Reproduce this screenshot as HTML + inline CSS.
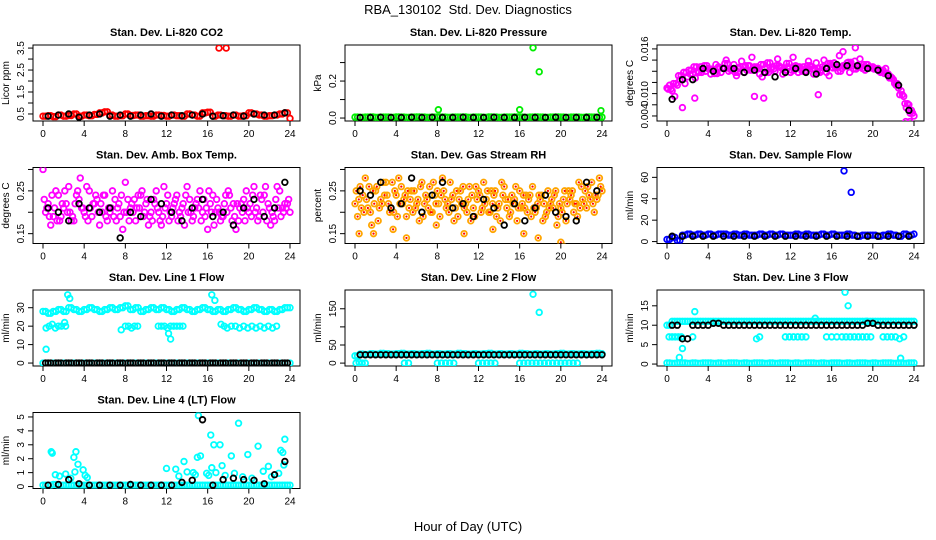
<!DOCTYPE html>
<html><head><meta charset="utf-8">
<style>
html,body{margin:0;padding:0;background:#fff;}
svg{display:block;font-family:"Liberation Sans",sans-serif;}
</style></head>
<body>
<svg id="c" width="936" height="540" viewBox="0 0 936 540" xmlns="http://www.w3.org/2000/svg">
<rect width="936" height="540" fill="#fff"/>
<text x="468" y="14" text-anchor="middle" font-size="13">RBA_130102&#160; Std. Dev. Diagnostics</text>
<text x="468" y="531" text-anchor="middle" font-size="13">Hour of Day (UTC)</text>
</svg>
<script>
// shared hour grids
const hrs = [0,0.5,1,1.5,2,2.5,3,3.5,4,4.5,5,5.5,6,6.5,7,7.5,8,8.5,9,9.5,10,10.5,11,11.5,12,12.5,13,13.5,14,14.5,15,15.5,16,16.5,17,17.5,18,18.5,19,19.5,20,20.5,21,21.5,22,22.5,23,23.5,24];
const hrsB = [0.25,0.75,1.25,1.75,2.25,2.75,3.25,3.75,4.25,4.75,5.25,5.75,6.25,6.75,7.25,7.75,8.25,8.75,9.25,9.75,10.25,10.75,11.25,11.75,12.25,12.75,13.25,13.75,14.25,14.75,15.25,15.75,16.25,16.75,17.25,17.75,18.25,18.75,19.25,19.75,20.25,20.75,21.25,21.75,22.25,22.75,23.25,23.75];
const hrsC = [0.12,0.62,1.12,1.62,2.12,2.62,3.12,3.62,4.12,4.62,5.12,5.62,6.12,6.62,7.12,7.62,8.12,8.62,9.12,9.62,10.12,10.62,11.12,11.62,12.12,12.62,13.12,13.62,14.12,14.62,15.12,15.62,16.12,16.62,17.12,17.62,18.12,18.62,19.12,19.62,20.12,20.62,21.12,21.62,22.12,22.62,23.12,23.62];
const hrsD = [0.37,0.87,1.37,1.87,2.37,2.87,3.37,3.87,4.37,4.87,5.37,5.87,6.37,6.87,7.37,7.87,8.37,8.87,9.37,9.87,10.37,10.87,11.37,11.87,12.37,12.87,13.37,13.87,14.37,14.87,15.37,15.87,16.37,16.87,17.37,17.87,18.37,18.87,19.37,19.87,20.37,20.87,21.37,21.87,22.37,22.87,23.37,23.87];
const hrsK = [0.5,1.5,2.5,3.5,4.5,5.5,6.5,7.5,8.5,9.5,10.5,11.5,12.5,13.5,14.5,15.5,16.5,17.5,18.5,19.5,20.5,21.5,22.5,23.5];
const xTicks = [0,4,8,12,16,20,24];

// CO2
const co2Red = [0.4,0.42,0.38,0.45,0.4,0.43,0.5,0.4,0.45,0.42,0.48,0.55,0.6,0.45,0.4,0.42,0.5,0.43,0.45,0.4,0.42,0.4,0.45,0.43,0.4,0.45,0.42,0.4,0.5,0.45,0.4,0.55,0.58,0.4,0.45,0.42,0.4,0.45,0.4,0.42,0.55,0.5,0.45,0.4,0.42,0.45,0.5,0.55,0.3];
const co2OutH = [17.1,17.8];
const co2OutV = [3.5,3.5];
const co2Blk = [0.4,0.45,0.5,0.35,0.45,0.5,0.4,0.45,0.4,0.45,0.5,0.4,0.45,0.42,0.45,0.5,0.4,0.42,0.45,0.4,0.5,0.45,0.45,0.55];
// Pressure
const prGreen = [0.005,0.004,0.005,0.006,0.004,0.005,0.005,0.004,0.006,0.005,0.004,0.005,0.006,0.005,0.004,0.005,0.006,0.005,0.004,0.005,0.005,0.006,0.004,0.005,0.005,0.004,0.006,0.005,0.004,0.005,0.005,0.006,0.005,0.004,0.005,0.006,0.005,0.004,0.005,0.006,0.005,0.004,0.005,0.005,0.004,0.006,0.005,0.004,0.005];
const prOutH = [8.1,16,17.3,17.9,23.9];
const prOutV = [0.045,0.045,0.38,0.25,0.04];
const prBlk = [0.003,0.003,0.004,0.003,0.003,0.004,0.003,0.004,0.003,0.003,0.004,0.003,0.003,0.004,0.003,0.003,0.004,0.003,0.003,0.004,0.003,0.003,0.003,0.004];
// Li-820 temp
const tM1 = [0.009,0.0085,0.0095,0.0105,0.011,0.0115,0.012,0.0125,0.0125,0.0122,0.0128,0.0125,0.012,0.0132,0.0125,0.0118,0.013,0.0128,0.0115,0.0125,0.0135,0.012,0.0128,0.0122,0.0118,0.013,0.0125,0.012,0.0128,0.0135,0.0122,0.0118,0.0132,0.0128,0.0125,0.0135,0.013,0.0128,0.0125,0.0132,0.0128,0.0125,0.0122,0.0115,0.0105,0.009,0.0075,0.006,0.004];
const tM2 = [0.0095,0.0075,0.0105,0.0098,0.0115,0.0108,0.0128,0.012,0.0115,0.0132,0.0118,0.014,0.0122,0.0112,0.0138,0.0122,0.0145,0.0128,0.011,0.0135,0.0128,0.0142,0.0115,0.0128,0.0145,0.0118,0.0128,0.0138,0.0115,0.0125,0.014,0.0112,0.0135,0.0148,0.0128,0.0118,0.0138,0.0142,0.0122,0.0128,0.0125,0.0118,0.0125,0.011,0.0095,0.0085,0.0055,0.005];
const tM3 = [0.0088,0.0098,0.0112,0.0118,0.0122,0.0128,0.0118,0.013,0.0124,0.0116,0.0126,0.0134,0.0124,0.0118,0.0128,0.013,0.0122,0.0126,0.0132,0.0118,0.0124,0.013,0.0126,0.0134,0.0122,0.0128,0.012,0.013,0.0124,0.0118,0.0128,0.0134,0.0126,0.012,0.013,0.0136,0.0124,0.0128,0.0132,0.0126,0.0124,0.012,0.0116,0.0108,0.0098,0.0078,0.0062,0.0045];
const tOutH = [1.5,2.7,8.5,9.4,14.7,18.3,17.1,23.2,23.6];
const tOutV = [0.0055,0.0072,0.0075,0.0072,0.0078,0.0162,0.0155,0.003,0.003];
const tBlk = [0.007,0.0105,0.0105,0.0125,0.012,0.0125,0.0125,0.0118,0.0122,0.0118,0.011,0.0118,0.0125,0.0118,0.0115,0.0125,0.0132,0.013,0.013,0.0125,0.0122,0.0112,0.0095,0.005];
// Amb box temp
const aM1 = [0.30,0.22,0.19,0.24,0.21,0.26,0.18,0.23,0.20,0.25,0.22,0.17,0.24,0.20,0.23,0.19,0.27,0.21,0.18,0.24,0.22,0.20,0.25,0.17,0.22,0.19,0.24,0.21,0.26,0.18,0.23,0.20,0.16,0.24,0.21,0.19,0.25,0.22,0.18,0.23,0.20,0.26,0.19,0.24,0.21,0.18,0.25,0.22,0.20];
const aM2 = [0.20,0.17,0.25,0.19,0.22,0.18,0.24,0.21,0.26,0.19,0.23,0.20,0.18,0.25,0.21,0.16,0.23,0.20,0.24,0.19,0.17,0.23,0.20,0.26,0.18,0.22,0.20,0.17,0.23,0.21,0.25,0.19,0.22,0.20,0.18,0.24,0.21,0.16,0.22,0.25,0.19,0.21,0.23,0.18,0.20,0.26,0.21,0.22];
const aM3 = [0.23,0.19,0.21,0.18,0.25,0.20,0.22,0.28,0.19,0.21,0.24,0.22,0.19,0.21,0.18,0.24,0.20,0.22,0.21,0.25,0.23,0.18,0.21,0.19,0.24,0.21,0.18,0.22,0.20,0.19,0.21,0.23,0.25,0.17,0.20,0.22,0.24,0.19,0.21,0.18,0.22,0.20,0.24,0.26,0.17,0.23,0.19,0.21];
const aM4 = [0.21,0.24,0.18,0.22,0.20,0.19,0.25,0.21,0.18,0.22,0.20,0.24,0.21,0.19,0.22,0.20,0.18,0.23,0.21,0.20,0.19,0.22,0.18,0.21,0.20,0.23,0.19,0.24,0.20,0.22,0.18,0.21,0.20,0.23,0.19,0.20,0.18,0.22,0.20,0.21,0.24,0.18,0.20,0.22,0.19,0.21,0.20,0.23];
const aBlk = [0.21,0.20,0.18,0.22,0.21,0.20,0.21,0.14,0.20,0.19,0.23,0.22,0.20,0.18,0.21,0.23,0.19,0.20,0.17,0.21,0.23,0.19,0.21,0.27];
// Gas stream RH
const rO1 = [0.22,0.26,0.28,0.20,0.25,0.23,0.27,0.21,0.24,0.26,0.19,0.25,0.22,0.27,0.23,0.20,0.25,0.28,0.22,0.24,0.19,0.26,0.23,0.21,0.25,0.27,0.20,0.24,0.22,0.26,0.19,0.23,0.25,0.21,0.24,0.20,0.23,0.19,0.22,0.25,0.21,0.18,0.24,0.22,0.26,0.21,0.27,0.23,0.25];
const rO2 = [0.19,0.24,0.21,0.25,0.18,0.27,0.22,0.20,0.28,0.23,0.21,0.25,0.18,0.22,0.26,0.24,0.19,0.23,0.27,0.21,0.25,0.22,0.18,0.26,0.20,0.23,0.25,0.19,0.27,0.21,0.24,0.18,0.22,0.20,0.26,0.22,0.18,0.25,0.21,0.19,0.23,0.25,0.20,0.27,0.22,0.24,0.20,0.28];
const rO3 = [0.25,0.21,0.23,0.17,0.26,0.22,0.24,0.27,0.19,0.22,0.25,0.20,0.23,0.19,0.21,0.27,0.22,0.25,0.20,0.18,0.23,0.21,0.26,0.19,0.24,0.22,0.20,0.25,0.18,0.23,0.20,0.26,0.21,0.24,0.19,0.21,0.24,0.20,0.23,0.17,0.20,0.22,0.25,0.19,0.23,0.26,0.22,0.24];
const rO4 = [0.23,0.20,0.26,0.22,0.21,0.24,0.20,0.25,0.22,0.24,0.23,0.21,0.26,0.24,0.20,0.22,0.24,0.21,0.23,0.25,0.22,0.20,0.24,0.23,0.21,0.25,0.22,0.21,0.24,0.23,0.22,0.21,0.24,0.23,0.21,0.24,0.22,0.21,0.24,0.22,0.25,0.23,0.22,0.21,0.25,0.23,0.24,0.26];
const rOutH = [0.4,1.8,3.7,5.0,7.9,10.6,13.4,16.4,17.8,20.0,20.3];
const rOutV = [0.15,0.15,0.16,0.14,0.17,0.15,0.16,0.15,0.14,0.13,0.12];
const rBlk = [0.25,0.24,0.27,0.21,0.22,0.28,0.20,0.24,0.27,0.21,0.22,0.19,0.23,0.21,0.17,0.22,0.18,0.21,0.24,0.20,0.19,0.18,0.27,0.25];
// Sample flow
const sBlue = [2,4,1,6,7,6,7,6,7,6,7,7,6,7,6,7,6,6,7,6,7,6,7,6,6,7,6,7,6,6,7,6,7,6,6,7,6,5,6,6,6,5,6,7,6,5,7,6,7];
const sOutH = [17.2,17.9];
const sOutV = [66,46];
const sBlk = [5,5,5,5,5,5,5,5,5,5,5,5,5,5,5,5,5,5,5,5,5,5,5,5];
// Line 1
const l1Top = [28,27,28,29,28,30,29,28,29,30,29,28,29,30,29,30,31,29,30,28,29,30,29,30,29,28,29,30,29,28,29,30,29,28,29,28,29,30,29,28,29,30,29,28,29,28,29,30,30];
const l1MidH = [0.3,0.6,0.9,1.2,1.5,1.8,2.2,8,8.3,8.6,8.9,9.2,11.2,11.5,11.8,12.1,12.4,12.7,13,13.3,13.6,17.3,17.6,17.9,18.3,18.7,19.1,19.5,19.9,20.3,20.7,21.1,21.5,21.9,22.3,22.7];
const l1MidV = [19,20,21,19,20,20,20,20,20,19,20,20,20,20,20,19,20,20,20,20,20,21,20,19,20,20,19,20,19,20,19,20,19,20,19,20];
const l1OutH = [0.3,2.4,2.6,7.6,12.2,12.4,16.4,16.7,2.1];
const l1OutV = [7.5,37,35,18,16,13,37,34,22];
const l1Zero = [0,0,0,0,0,0,0,0,0,0,0,0,0,0,0,0,0,0,0,0,0,0,0,0,0,0,0,0,0,0,0,0,0,0,0,0,0,0,0,0,0,0,0,0,0,0,0,0,0];
const l1Blk = [0,0,0,0,0,0,0,0,0,0,0,0,0,0,0,0,0,0,0,0,0,0,0,0];
// Line 2
const l2Top = [20,25,24,26,25,27,26,25,26,27,25,26,25,26,27,25,26,25,26,25,27,26,25,26,25,26,27,25,26,25,26,25,27,26,25,26,25,26,25,26,27,25,26,25,26,25,26,27,26];
const l2ZeroH = [0.1,0.4,0.7,1.0,4.8,5.2,8.0,8.4,8.8,9.2,9.6,12.0,12.4,12.8,13.2,13.6,16.0,16.4,16.8,17.2,17.6,18.0,18.4,18.8,19.2,19.6,20.0,20.4,20.8,21.2,21.6];
const l2ZeroV = [0,2,0,0,0,0,0,0,0,0,0,0,0,0,0,0,0,0,0,0,0,0,0,0,0,0,0,0,0,0,0];
const l2OutH = [17.3,17.9];
const l2OutV = [190,140];
const l2Blk = [23,23,23,23,23,23,23,23,23,23,23,23,23,23,23,23,23,23,23,23,23,23,23,23];
// Line 3
const l3Top = [10,11,11,11,11,11,11,11,11,11,11,11,11,11,11,11,11,11,11,11,11,11,11,11,11,11,11,11,11,11,11,11,11,11,11,11,11,11,11,11,11,11,11,11,11,11,11,11,11];
const l3MidH = [0.2,0.5,0.8,1.1,1.4,2.5,8.7,9.0,11.5,11.9,12.3,12.7,13.1,13.5,15.5,16.0,16.5,17.0,17.4,17.8,18.2,18.6,19.0,19.4,19.8,21.0,21.4,21.8,22.2,22.6,23.0];
const l3MidV = [7,7,7,7,7,7,6.5,7,7,7,7,7,7,7,7,7,7,7,7,7,7,7,7,7,7,7,7,7,7,6.5,7];
const l3OutH = [1.2,1.5,2.7,17.3,17.6,14.4,19.4,22.7];
const l3OutV = [1.7,4,13.5,18.5,15,11.8,11,1.5];
const l3Zero = [0.3,0.2,0.3,0.3,0.2,0.3,0.2,0.3,0.3,0.2,0.3,0.2,0.3,0.3,0.2,0.3,0.2,0.3,0.3,0.2,0.3,0.2,0.3,0.3,0.2,0.3,0.2,0.3,0.3,0.2,0.3,0.2,0.3,0.3,0.2,0.3,0.2,0.3,0.3,0.2,0.3,0.2,0.3,0.3,0.2,0.3,0.2,0.3,0.3];
const l3Blk = [10,6.5,10,10,10.5,10,10,10,10,10,10,10,10,10,10,10,10,10,10,10.5,10,10,10,10];
// Line 4
const l4Base = [0.1,0.1,0.15,0.1,0.1,0.1,0.1,0.1,0.1,0.1,0.1,0.1,0.1,0.1,0.1,0.1,0.1,0.1,0.1,0.1,0.1,0.1,0.1,0.1,0.1,0.1,0.1,0.1,0.1,0.1,0.1,0.1,0.1,0.1,0.1,0.1,0.1,0.1,0.1,0.1,0.1,0.1,0.1,0.1,0.1,0.1,0.1,0.1,0.1];
const l4CyanH = [0.8,0.9,1.2,1.6,2.2,2.7,3,3.1,3.2,3.4,3.9,4.1,4.3,12,12.9,13.2,13.7,14,14.6,14.8,15,15.1,15.3,15.9,16.1,16.3,16.4,16.6,16.8,17.2,17.4,17.7,18.3,18.6,19,19.4,19.9,20.3,20.9,21.4,21.9,22.2,22.9,23.1,23.3,23.4,23.5];
const l4CyanV = [2.5,2.4,0.85,0.75,0.9,0.6,2.1,1.05,2.5,1.6,1.2,0.8,0.65,1.3,1.25,0.75,1.8,1.05,1.0,0.85,2.1,5.1,2.2,0.95,0.8,3.7,1.35,3.0,1.0,3.0,1.5,0.8,2.2,0.95,4.55,0.7,2.3,0.6,2.9,1.1,1.45,0.7,0.95,2.6,2.45,1.55,3.4];
const l4Blk = [0.1,0.15,0.5,0.2,0.1,0.1,0.1,0.1,0.15,0.1,0.1,0.1,0.1,0.3,0.45,4.8,0.1,0.5,0.6,0.5,0.45,0.2,0.85,1.8];

const NS = 'http://www.w3.org/2000/svg';
const svg = document.getElementById('c');
const cols = [33,345,657], rowsY = [45,167.5,290,412.5], PW = 267, PH = 76;

function el(tag, attrs, parent){
  const e = document.createElementNS(NS, tag);
  for (const k in attrs) e.setAttribute(k, attrs[k]);
  (parent||svg).appendChild(e);
  return e;
}

function panel(col,row,ylim,title,ylab,yTicks,yLabels,name){
  const g = el('g',{});
  
  
  const L = cols[col], T = rowsY[row];
  const sx = h => L + 10 + h*(PW-20)/24;
  const sy = v => T + PH - (v-ylim[0])/(ylim[1]-ylim[0])*PH;
  const box = el('rect',{x:L,y:T,width:PW,height:PH,fill:'none',stroke:'#000','stroke-width':1},g);
  
  
  const t = el('text',{x:L+PW/2,y:T-9,'text-anchor':'middle','font-size':11,'font-weight':'bold'},g);
  t.textContent = title;
  
  
  const yl = el('text',{transform:`translate(${L-24},${T+PH/2}) rotate(-90)`,'text-anchor':'middle','font-size':10},g);
  yl.textContent = ylab;
  
  
  xTicks.forEach(h=>{
    el('line',{x1:sx(h),x2:sx(h),y1:T+PH,y2:T+PH+5,stroke:'#000'},g);
    const tx = el('text',{x:sx(h),y:T+PH+16,'text-anchor':'middle','font-size':10},g);
    tx.textContent = h;
    
    
  });
  yTicks.forEach((v,i)=>{
    el('line',{x1:L-5,x2:L,y1:sy(v),y2:sy(v),stroke:'#000'},g);
    if (yLabels[i]) {
      const ty = el('text',{transform:`translate(${L-9},${sy(v)}) rotate(-90)`,'text-anchor':'middle','font-size':10},g);
      ty.textContent = yLabels[i];
      
      
    }
  });
  const clip = 'clip'+col+row;
  const cp = el('clipPath',{id:clip},g);
  el('rect',{x:L,y:T,width:PW,height:PH},cp);
  const pts = el('g',{'clip-path':`url(#${clip})`},g);
  return {g:pts, sx, sy};
}

function series(p, H, V, color, name, dot){
  H.forEach((h,i)=>{
    if (V[i]===undefined) return;
    const c = el('circle',{cx:p.sx(h),cy:p.sy(V[i]),r:2.8,fill:'none',stroke:color,'stroke-width':1.8},p.g);
    
    
    if (dot) {
      const d = el('circle',{cx:p.sx(h),cy:p.sy(V[i]),r:1.1,fill:dot},p.g);
      
      
    }
  });
}

const RED='#ff0000', GRN='#00ee00', MAG='#ff00ff', ORG='#ffa500', BLU='#0000ff', CYN='#00ffff', BLK='#000';

let p = panel(0,0,[0.18,3.64],'Stan. Dev. Li-820 CO2','Licor ppm',[0.5,1,1.5,2,2.5,3,3.5],['0.5','','1.5','','2.5','','3.5'],'panel-co2');
series(p,hrs,co2Red,RED,'co2-point'); series(p,hrsB,co2Red,RED,'co2-point'); series(p,co2OutH,co2OutV,RED,'co2-outlier'); series(p,hrsK,co2Blk,BLK,'co2-hourly');

p = panel(1,0,[-0.016,0.395],'Stan. Dev. Li-820 Pressure','kPa',[0,0.1,0.2,0.3],['0.0','','0.2',''],'panel-pressure');
series(p,hrs,prGreen,GRN,'pressure-point'); series(p,hrsB,prGreen,GRN,'pressure-point'); series(p,prOutH,prOutV,GRN,'pressure-outlier'); series(p,hrsK,prBlk,BLK,'pressure-hourly');

p = panel(2,0,[0.0031,0.0167],'Stan. Dev. Li-820 Temp.','degrees C',[0.004,0.006,0.008,0.010,0.012,0.014,0.016],['0.004','','0.010','','','','0.016'],'panel-li820-temp');
series(p,hrs,tM1,MAG,'temp-point'); series(p,hrsB,tM2,MAG,'temp-point'); series(p,hrsC,tM3,MAG,'temp-point'); series(p,hrsD,tM3,MAG,'temp-point'); series(p,tOutH,tOutV,MAG,'temp-outlier'); series(p,hrsK,tBlk,BLK,'temp-hourly');

p = panel(0,1,[0.127,0.3046],'Stan. Dev. Amb. Box Temp.','degrees C',[0.15,0.2,0.25,0.3],['0.15','','0.25',''],'panel-amb-box-temp');
series(p,hrs,aM1,MAG,'amb-point'); series(p,hrsB,aM2,MAG,'amb-point'); series(p,hrsC,aM3,MAG,'amb-point'); series(p,hrsD,aM4,MAG,'amb-point'); series(p,hrsK,aBlk,BLK,'amb-hourly');

p = panel(1,1,[0.127,0.3046],'Stan. Dev. Gas Stream RH','percent',[0.15,0.2,0.25,0.3],['0.15','','0.25',''],'panel-rh');
series(p,hrs,rO1,ORG,'rh-point',RED); series(p,hrsB,rO2,ORG,'rh-point',RED); series(p,hrsC,rO3,ORG,'rh-point',RED); series(p,hrsD,rO4,ORG,'rh-point',RED); series(p,rOutH,rOutV,ORG,'rh-outlier',RED); series(p,hrsK,rBlk,BLK,'rh-hourly');

p = panel(2,1,[-1.8,69.2],'Stan. Dev. Sample Flow','ml/min',[0,20,40,60],['0','20','40','60'],'panel-sample-flow');
series(p,hrs,sBlue,BLU,'sample-point'); series(p,hrsB,sBlue,BLU,'sample-point'); series(p,sOutH,sOutV,BLU,'sample-outlier'); series(p,hrsK,sBlk,BLK,'sample-hourly');

p = panel(0,2,[-1.6,39.6],'Stan. Dev. Line 1 Flow','ml/min',[0,10,20,30],['0','10','20','30'],'panel-line1');
series(p,hrs,l1Top,CYN,'line1-point'); series(p,hrsB,l1Top,CYN,'line1-point'); series(p,l1MidH,l1MidV,CYN,'line1-point'); series(p,l1OutH,l1OutV,CYN,'line1-outlier'); series(p,hrs,l1Zero,CYN,'line1-zero'); series(p,hrsB,l1Zero,BLK,'line1-hourly'); series(p,hrsK,l1Blk,BLK,'line1-hourly');

p = panel(1,2,[-8,201.8],'Stan. Dev. Line 2 Flow','ml/min',[0,50,100,150],['0','50','','150'],'panel-line2');
series(p,hrs,l2Top,CYN,'line2-point'); series(p,hrsB,l2Top,CYN,'line2-point'); series(p,l2ZeroH,l2ZeroV,CYN,'line2-zero'); series(p,l2OutH,l2OutV,CYN,'line2-outlier'); series(p,hrsK,l2Blk,BLK,'line2-hourly'); series(p,hrsK.map(h=>h+0.5),l2Blk,BLK,'line2-hourly');

p = panel(2,2,[-0.5,19.07],'Stan. Dev. Line 3 Flow','ml/min',[0,5,10,15],['0','5','10','15'],'panel-line3');
series(p,hrs,l3Top,CYN,'line3-point'); series(p,hrsB,l3Top,CYN,'line3-point'); series(p,l3MidH,l3MidV,CYN,'line3-point'); series(p,hrs,l3Zero,CYN,'line3-zero'); series(p,hrsB,l3Zero,CYN,'line3-zero'); series(p,l3OutH,l3OutV,CYN,'line3-outlier'); series(p,hrsK,l3Blk,BLK,'line3-hourly'); series(p,hrsK.map(h=>h+0.5),l3Blk,BLK,'line3-hourly');

p = panel(0,3,[-0.14,5.32],'Stan. Dev. Line 4 (LT) Flow','ml/min',[0,1,2,3,4,5],['0','1','2','3','4','5'],'panel-line4');
series(p,hrs,l4Base,CYN,'line4-point'); series(p,hrsB,l4Base,CYN,'line4-point'); series(p,l4CyanH,l4CyanV,CYN,'line4-point'); series(p,hrsK,l4Blk,BLK,'line4-hourly');
</script>
</body></html>
